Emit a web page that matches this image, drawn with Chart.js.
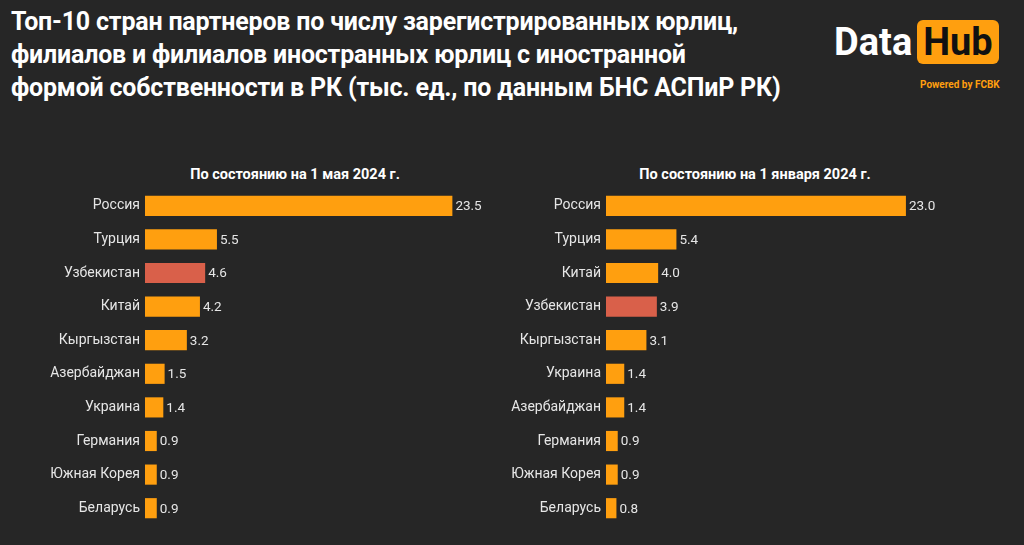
<!DOCTYPE html>
<html><head><meta charset="utf-8">
<script src="https://cdn.jsdelivr.net/npm/chart.js@4"></script>
<style>
body{margin:0;width:1024px;height:545px;background:#262626;overflow:hidden;font-family:Roboto,"Noto Sans",sans-serif;position:relative}
#t{position:absolute;left:11px;top:5px;color:#fff;font-weight:bold;font-size:25px;line-height:33px;letter-spacing:-0.2px}
#logo{position:absolute;left:834px;top:20px;font-weight:bold;font-size:38px;color:#fff}
#hub{background:#FF9F0F;color:#111;border-radius:6px;padding:0 6px;margin-left:5px}
#pw{position:absolute;left:920px;top:79px;color:#FF9F0F;font-size:10px;font-weight:bold}
.c{position:absolute;top:160px;width:590px;height:385px}
.st{position:absolute;top:166px;width:590px;text-align:center;color:#fff;font-weight:bold;font-size:14.5px}
</style></head><body>
<div id="t">Топ-10 стран партнеров по числу зарегистрированных юрлиц,<br>филиалов и филиалов иностранных юрлиц с иностранной<br>формой собственности в РК (тыс. ед., по данным БНС АСПиР РК)</div>
<div id="logo">Data<span id="hub">Hub</span></div>
<div id="pw">Powered by FCBK</div>
<div class="st" id="s1" style="left:0"></div>
<div class="st" id="s2" style="left:460px"></div>
<div class="c" style="left:0"><canvas id="c1"></canvas></div>
<div class="c" style="left:460px"><canvas id="c2"></canvas></div>
<script>
const titleMay="По состоянию на 1 мая 2024 г.";
const countriesMay=["Россия","Турция","Узбекистан","Китай","Кыргызстан","Азербайджан","Украина","Германия","Южная Корея","Беларусь"];
const valuesMay=[23.5,5.5,4.6,4.2,3.2,1.5,1.4,0.9,0.9,0.9];
const titleJan="По состоянию на 1 января 2024 г.";
const countriesJan=["Россия","Турция","Китай","Узбекистан","Кыргызстан","Украина","Азербайджан","Германия","Южная Корея","Беларусь"];
const valuesJan=[23.0,5.4,4.0,3.9,3.1,1.4,1.4,0.9,0.9,0.8];
document.getElementById('s1').textContent=titleMay;
document.getElementById('s2').textContent=titleJan;
const valPlugin={id:'val',afterDatasetsDraw(ch){const c=ch.ctx;c.save();c.fillStyle='#e6e6e6';c.font='13.5px Roboto';c.textBaseline='middle';
ch.getDatasetMeta(0).data.forEach((b,i)=>{c.fillText(ch.data.datasets[0].data[i].toFixed(1),b.x+3,b.y+1);});c.restore();}};
function mk(id,labels,vals){
new Chart(document.getElementById(id),{type:'bar',plugins:[valPlugin],
data:{labels,datasets:[{data:vals,backgroundColor:labels.map(l=>l==="Узбекистан"?"#D9604A":"#FF9F0F"),categoryPercentage:1,barPercentage:0.6}]},
options:{indexAxis:'y',responsive:false,animation:false,maintainAspectRatio:false,
layout:{padding:{right:118,bottom:20,top:29}},
plugins:{legend:{display:false},tooltip:{enabled:false}},
scales:{x:{display:false,min:0,max:25},y:{grid:{display:false},border:{display:false},ticks:{color:'#e6e6e6',font:{size:14,family:'Roboto'},padding:-3},afterFit(s){s.width=id==='c1'?145:146;}}}}});}
document.querySelectorAll('canvas').forEach(c=>{c.width=590;c.height=385;});
mk('c1',countriesMay,valuesMay);
mk('c2',countriesJan,valuesJan);
</script></body></html>
